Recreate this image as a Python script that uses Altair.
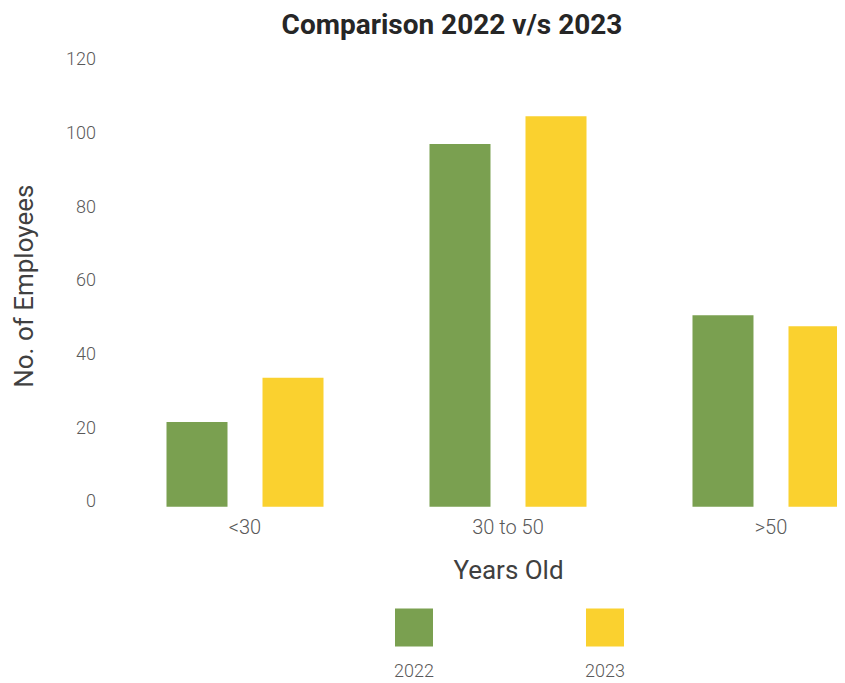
import altair as alt
import pandas as pd

groups = ["<30", "30 to 50", ">50"]
years = ["2022", "2023"]
v2022 = [23, 98.5, 52]
v2023 = [35, 106, 49]
colors = ["#7AA050", "#FAD12F"]

rows = []
for g, a, b in zip(groups, v2022, v2023):
    rows.append({"group": g, "year": years[0], "value": a})
    rows.append({"group": g, "year": years[1], "value": b})
df = pd.DataFrame(rows)
leg = pd.DataFrame({"year": years})

FONT = "Roboto"
LBL = "#595959"
TTL = "#404040"
color_scale = alt.Scale(domain=years, range=colors)

bars = alt.Chart(df).mark_bar().encode(
    x=alt.X("group:N", sort=groups,
            scale=alt.Scale(paddingInner=0.403, paddingOuter=0.2015, range=[0, 789]),
            axis=alt.Axis(title="Years Old", labelAngle=0, domain=False, ticks=False,
                          labelFont=FONT, labelFontSize=20, labelFontWeight=300,
                          labelColor=LBL, labelPadding=11,
                          titleFont=FONT, titleFontSize=26, titleFontWeight="normal",
                          titleColor=TTL, titlePadding=20)),
    xOffset=alt.XOffset("year:N", scale=alt.Scale(paddingInner=0.3646, paddingOuter=0)),
    y=alt.Y("value:Q",
            scale=alt.Scale(domain=[0, 120], nice=False),
            axis=alt.Axis(title="No. of Employees", values=[0, 20, 40, 60, 80, 100, 120],
                          grid=False, domain=False, ticks=False,
                          labelFont=FONT, labelFontSize=18, labelFontWeight=300,
                          labelColor=LBL, labelPadding=18, labelOffset=-5,
                          titleFont=FONT, titleFontSize=26, titleFontWeight="normal",
                          titleColor=TTL, titlePadding=28)),
    color=alt.Color("year:N", scale=color_scale, legend=None),
)

leg_x = alt.X("year:N", axis=None,
              scale=alt.Scale(type="point", domain=years, range=[300.5, 491.5], padding=0))
leg_y = alt.YDatum(0, type="quantitative", axis=None,
                   scale=alt.Scale(domain=[0, 1], range=[562.8, 0]))

legend_sq = alt.Chart(leg).mark_square(size=1444, opacity=1).encode(
    x=leg_x, y=leg_y,
    color=alt.Color("year:N", scale=color_scale, legend=None),
)
legend_txt = alt.Chart(leg).mark_text(dy=44.5, font=FONT, fontSize=18, fontWeight=300,
                                      color=LBL, baseline="middle").encode(
    x=leg_x, y=leg_y, text="year:N")

chart = alt.layer(bars, legend_sq, legend_txt).resolve_scale(
    x="independent", y="independent"
).properties(
    width=723, height=442,
    title=alt.TitleParams("Comparison 2022 v/s 2023", font=FONT, fontSize=28,
                          fontWeight="bold", color="#262626", anchor="middle",
                          dx=-23, offset=11),
    padding={"left": 105.5, "top": 56.7, "right": 0, "bottom": 175},
    autosize=alt.AutoSizeParams(type="none"),
).configure_view(stroke=None)

chart.save("out.html", embed_options={"renderer": "svg", "actions": False})
